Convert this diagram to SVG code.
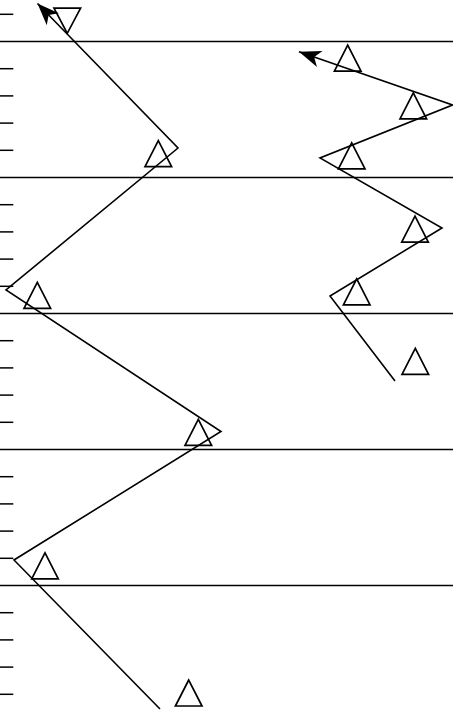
<svg xmlns="http://www.w3.org/2000/svg" xmlns:xlink="http://www.w3.org/1999/xlink" width="453" height="717" viewBox="0 0 453 717">
<style>
.grid{stroke:#000;stroke-width:1.3;fill:none}
.tick{stroke:#000;stroke-width:1.5;fill:none}
.track{stroke:#000;stroke-width:1.6;fill:none;stroke-linejoin:miter}
.tri{stroke:#000;stroke-width:1.7;fill:none;stroke-linejoin:miter}
</style>
<defs>
<marker id="arr" markerUnits="userSpaceOnUse" viewBox="-24 -12 26 24" markerWidth="26" markerHeight="24" refX="0" refY="0" orient="auto" overflow="visible">
<path d="M0,0 L-22,-8.5 L-16,0 L-22,8.5 Z" fill="#000"/>
</marker>
<path id="up" d="M0,-13 L-13.3,13 L13.3,13 Z"/>
<path id="down" d="M0,12.6 L-13.3,-12.6 L13.3,-12.6 Z"/>
</defs>
<rect width="453" height="717" fill="#fff"/>
<g id="grid">
<line class="grid" x1="0" y1="41.5" x2="453" y2="41.5"/>
<line class="grid" x1="0" y1="177.5" x2="453" y2="177.5"/>
<line class="grid" x1="0" y1="313.5" x2="453" y2="313.5"/>
<line class="grid" x1="0" y1="449.5" x2="453" y2="449.5"/>
<line class="grid" x1="0" y1="585.5" x2="453" y2="585.5"/>
</g>
<g id="ticks">
<line class="tick" x1="0" y1="14.3" x2="13.3" y2="14.3"/>
<line class="tick" x1="0" y1="68.7" x2="13.3" y2="68.7"/>
<line class="tick" x1="0" y1="95.9" x2="13.3" y2="95.9"/>
<line class="tick" x1="0" y1="123.1" x2="13.3" y2="123.1"/>
<line class="tick" x1="0" y1="150.3" x2="13.3" y2="150.3"/>
<line class="tick" x1="0" y1="204.7" x2="13.3" y2="204.7"/>
<line class="tick" x1="0" y1="231.9" x2="13.3" y2="231.9"/>
<line class="tick" x1="0" y1="259.1" x2="13.3" y2="259.1"/>
<line class="tick" x1="0" y1="286.3" x2="13.3" y2="286.3"/>
<line class="tick" x1="0" y1="340.7" x2="13.3" y2="340.7"/>
<line class="tick" x1="0" y1="367.9" x2="13.3" y2="367.9"/>
<line class="tick" x1="0" y1="395.1" x2="13.3" y2="395.1"/>
<line class="tick" x1="0" y1="422.3" x2="13.3" y2="422.3"/>
<line class="tick" x1="0" y1="476.7" x2="13.3" y2="476.7"/>
<line class="tick" x1="0" y1="503.9" x2="13.3" y2="503.9"/>
<line class="tick" x1="0" y1="531.1" x2="13.3" y2="531.1"/>
<line class="tick" x1="0" y1="558.3" x2="13.3" y2="558.3"/>
<line class="tick" x1="0" y1="612.7" x2="13.3" y2="612.7"/>
<line class="tick" x1="0" y1="639.9" x2="13.3" y2="639.9"/>
<line class="tick" x1="0" y1="667.1" x2="13.3" y2="667.1"/>
<line class="tick" x1="0" y1="694.3" x2="13.3" y2="694.3"/>
</g>
<g id="connectors">
<polyline class="track" points="160,709 14,560 221,431.5 6,290 178,148 37.5,3.5" marker-end="url(#arr)"/>
<polyline class="track" points="395,381 330,296 442,228 320,158 452.5,105 299,51.8" marker-end="url(#arr)"/>
</g>
<g id="n0"><use xlink:href="#down" class="tri" x="67.3" y="20.7"/></g>
<g id="n1"><use xlink:href="#up" class="tri" x="158.3" y="153.7"/></g>
<g id="n2"><use xlink:href="#up" class="tri" x="37.3" y="295.3"/></g>
<g id="n3"><use xlink:href="#up" class="tri" x="198.3" y="432.3"/></g>
<g id="n4"><use xlink:href="#up" class="tri" x="45" y="565.8"/></g>
<g id="n5"><use xlink:href="#up" class="tri" x="188.7" y="693"/></g>
<g id="n6"><use xlink:href="#up" class="tri" x="347.7" y="58.2"/></g>
<g id="n7"><use xlink:href="#up" class="tri" x="413.3" y="105.9"/></g>
<g id="n8"><use xlink:href="#up" class="tri" x="351.7" y="155.8"/></g>
<g id="n9"><use xlink:href="#up" class="tri" x="415" y="229.2"/></g>
<g id="n10"><use xlink:href="#up" class="tri" x="356.7" y="291.8"/></g>
<g id="n11"><use xlink:href="#up" class="tri" x="415.3" y="361.3"/></g>
</svg>
